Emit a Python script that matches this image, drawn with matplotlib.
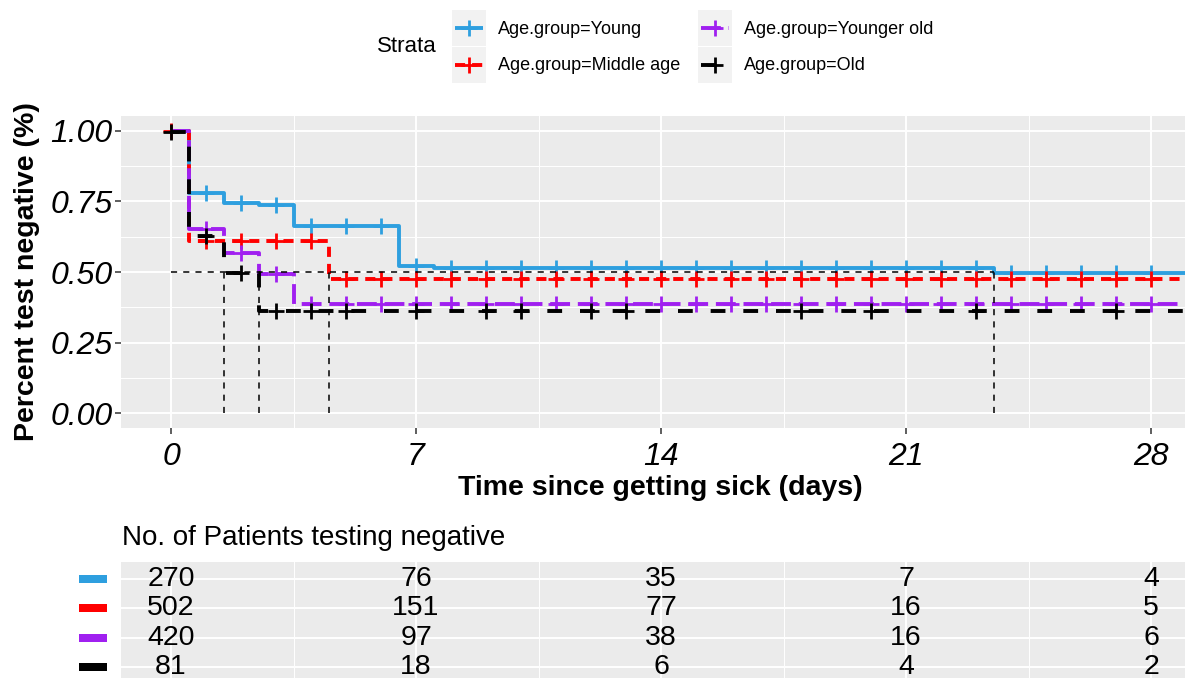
import numpy as np
import matplotlib
matplotlib.use("Agg")
import matplotlib.pyplot as plt
from matplotlib.lines import Line2D
from matplotlib.patches import Rectangle

plt.rcParams['font.family'] = ['Liberation Sans', 'DejaVu Sans']

# ---------------- data ----------------
groups = ["Age.group=Young", "Age.group=Middle age", "Age.group=Younger old", "Age.group=Old"]
colors = ["#2E9FDF", "#FF0000", "#A020F0", "#000000"]

t_young = [0, 0.5, 1.5, 2.5, 3.5, 6.5, 7.5, 23.5, 30]
s_young = [1.0, 0.78, 0.745, 0.737, 0.663, 0.522, 0.515, 0.497, 0.497]
t_middle = [0, 0.5, 4.5, 30]
s_middle = [1.0, 0.61, 0.476, 0.476]
t_yold = [0, 0.5, 1.5, 2.5, 3.5, 30]
s_yold = [1.0, 0.652, 0.568, 0.493, 0.387, 0.387]
t_old = [0, 0.5, 1.5, 2.5, 30]
s_old = [0.995, 0.628, 0.497, 0.362, 0.362]

c_young = list(range(1, 29))
c_middle = [0] + list(range(1, 29))
c_yold = list(range(1, 29))
c_old = [0, 1, 2, 3, 4, 5, 7, 9, 10, 12, 13, 18, 20, 23, 27]

risk_times = [0, 7, 14, 21, 28]
risk_young = [270, 76, 35, 7, 4]
risk_middle = [502, 151, 77, 16, 5]
risk_yold = [420, 97, 38, 16, 6]
risk_old = [81, 18, 6, 4, 2]

x_ticks = [0, 7, 14, 21, 28]
y_ticks = [0.0, 0.25, 0.5, 0.75, 1.0]
y_ticklabels = ["0.00", "0.25", "0.50", "0.75", "1.00"]

times = [t_young, t_middle, t_yold, t_old]
survs = [s_young, s_middle, s_yold, s_old]
censors = [c_young, c_middle, c_yold, c_old]
risks = [risk_young, risk_middle, risk_yold, risk_old]

# ---------------- style ----------------
LW = 2.8
dashes = [None, (2.6, 1.8), (5.1, 2.0), (3.8, 4.6)]
BG = "#EBEBEB"

W, H = 1185, 678
fig = plt.figure(figsize=(W / 100, H / 100), dpi=100)

def fx(px):
    return px / W

def fy(py):
    return 1 - py / H

# main panel
ax = fig.add_axes([fx(121), fy(428), fx(1185 - 121), (428 - 116) / H])
ax.set_facecolor(BG)
ax.set_xlim(-1.43, 28.97)
ax.set_ylim(-0.053, 1.053)
ax.set_xticks(x_ticks)
ax.set_xticks([3.5, 10.5, 17.5, 24.5], minor=True)
ax.set_yticks(y_ticks)
ax.set_yticks([0.125, 0.375, 0.625, 0.875], minor=True)
ax.set_yticklabels(y_ticklabels)
ax.grid(which="major", color="white", lw=1.4)
ax.grid(which="minor", color="white", lw=0.7)
ax.set_axisbelow(True)
for sp in ax.spines.values():
    sp.set_visible(False)
ax.tick_params(which="major", length=4, width=1.1, color="#333333", labelsize=23, pad=2)
ax.tick_params(axis="x", which="major", pad=6)
ax.tick_params(which="minor", length=0)
for lab in ax.get_xticklabels() + ax.get_yticklabels():
    lab.set_fontstyle("italic")
    lab.set_color("black")

def surv_at(tt, ss, t):
    i = np.searchsorted(tt, t, side="right") - 1
    return ss[max(i, 0)]

for k in range(4):
    ln, = ax.step(times[k], survs[k], where="post", color=colors[k], lw=LW,
                  solid_capstyle="butt", zorder=3 + k)
    if dashes[k] is not None:
        ln.set_dashes(dashes[k])
    cy = [surv_at(times[k], survs[k], t) for t in censors[k]]
    ax.plot(censors[k], cy, ls="none", marker="+", ms=11, mew=2.0,
            color=colors[k], zorder=3 + k)

# median survival lines
medians = []
for k in range(4):
    tt, ss = times[k], survs[k]
    for t, s in zip(tt, ss):
        if s <= 0.5:
            medians.append(t)
            break
ax.plot([0, max(medians)], [0.5, 0.5], color="black", lw=1.1, dashes=(4, 4), zorder=8)
for m in medians:
    ax.plot([m, m], [0, 0.5], color="black", lw=1.1, dashes=(4, 4), zorder=8)

ax.set_xlabel("Time since getting sick (days)", fontsize=20.5, fontweight="bold")
ax.xaxis.set_label_coords((660 - 121) / (1185 - 121), (428 - 475) / 312)
ax.set_ylabel("Percent test negative (%)", fontsize=20.5, fontweight="bold")
ax.yaxis.set_label_coords((40 - 121) / (1185 - 121), 0.5)

# risk table
tab = fig.add_axes([fx(121), 0, fx(1185 - 121), (678 - 562) / H])
tab.set_facecolor(BG)
tab.set_xlim(ax.get_xlim())
tab.set_ylim(4.375, 0.42)
tab.set_xticks(x_ticks)
tab.set_xticks([3.5, 10.5, 17.5, 24.5], minor=True)
tab.set_yticks([1, 2, 3, 4])
tab.grid(which="major", color="white", lw=1.4)
tab.grid(which="minor", axis="x", color="white", lw=0.7)
tab.set_axisbelow(True)
tab.tick_params(which="both", length=0, labelbottom=False, labelleft=False)
for sp in tab.spines.values():
    sp.set_visible(False)
for k in range(4):
    for t, v in zip(risk_times, risks[k]):
        tab.text(t, k + 1, str(v), ha="center", va="center", fontsize=20.5, color="black")
fig.text(fx(122), fy(538), "No. of Patients testing negative", fontsize=20,
         ha="left", va="center")

# overlay in pixel coordinates for legend / table colour keys
ov = fig.add_axes([0, 0, 1, 1], zorder=10)
ov.set_xlim(0, W)
ov.set_ylim(H, 0)
ov.axis("off")
ov.patch.set_alpha(0)

row_y = [579, 608.3, 637.6, 667]
for k in range(4):
    ov.add_patch(Rectangle((79, row_y[k] - 4), 28, 8, color=colors[k], lw=0))

# legend
ov.text(377, 47, "Strata", fontsize=16, ha="left", va="center")
key_x = [452, 698]
key_y = [10, 47]
pos = [(0, 0), (0, 1), (1, 0), (1, 1)]  # (col,row) for each group
for k in range(4):
    c, r = pos[k]
    x0 = key_x[c]
    y0 = key_y[r]
    ov.add_patch(Rectangle((x0, y0), 34, 36, color="#F2F2F2", lw=0))
    yc = y0 + 18
    ln = Line2D([x0 + 3, x0 + 31], [yc, yc], color=colors[k], lw=LW, solid_capstyle="butt")
    if dashes[k] is not None:
        ln.set_dashes(dashes[k])
    ov.add_line(ln)
    ov.plot([x0 + 17], [yc], marker="+", ms=11, mew=2.0, color=colors[k])
    ov.text(x0 + 46, yc + 1, groups[k], fontsize=13, ha="left", va="center")

fig.savefig("out.png", dpi=100)
